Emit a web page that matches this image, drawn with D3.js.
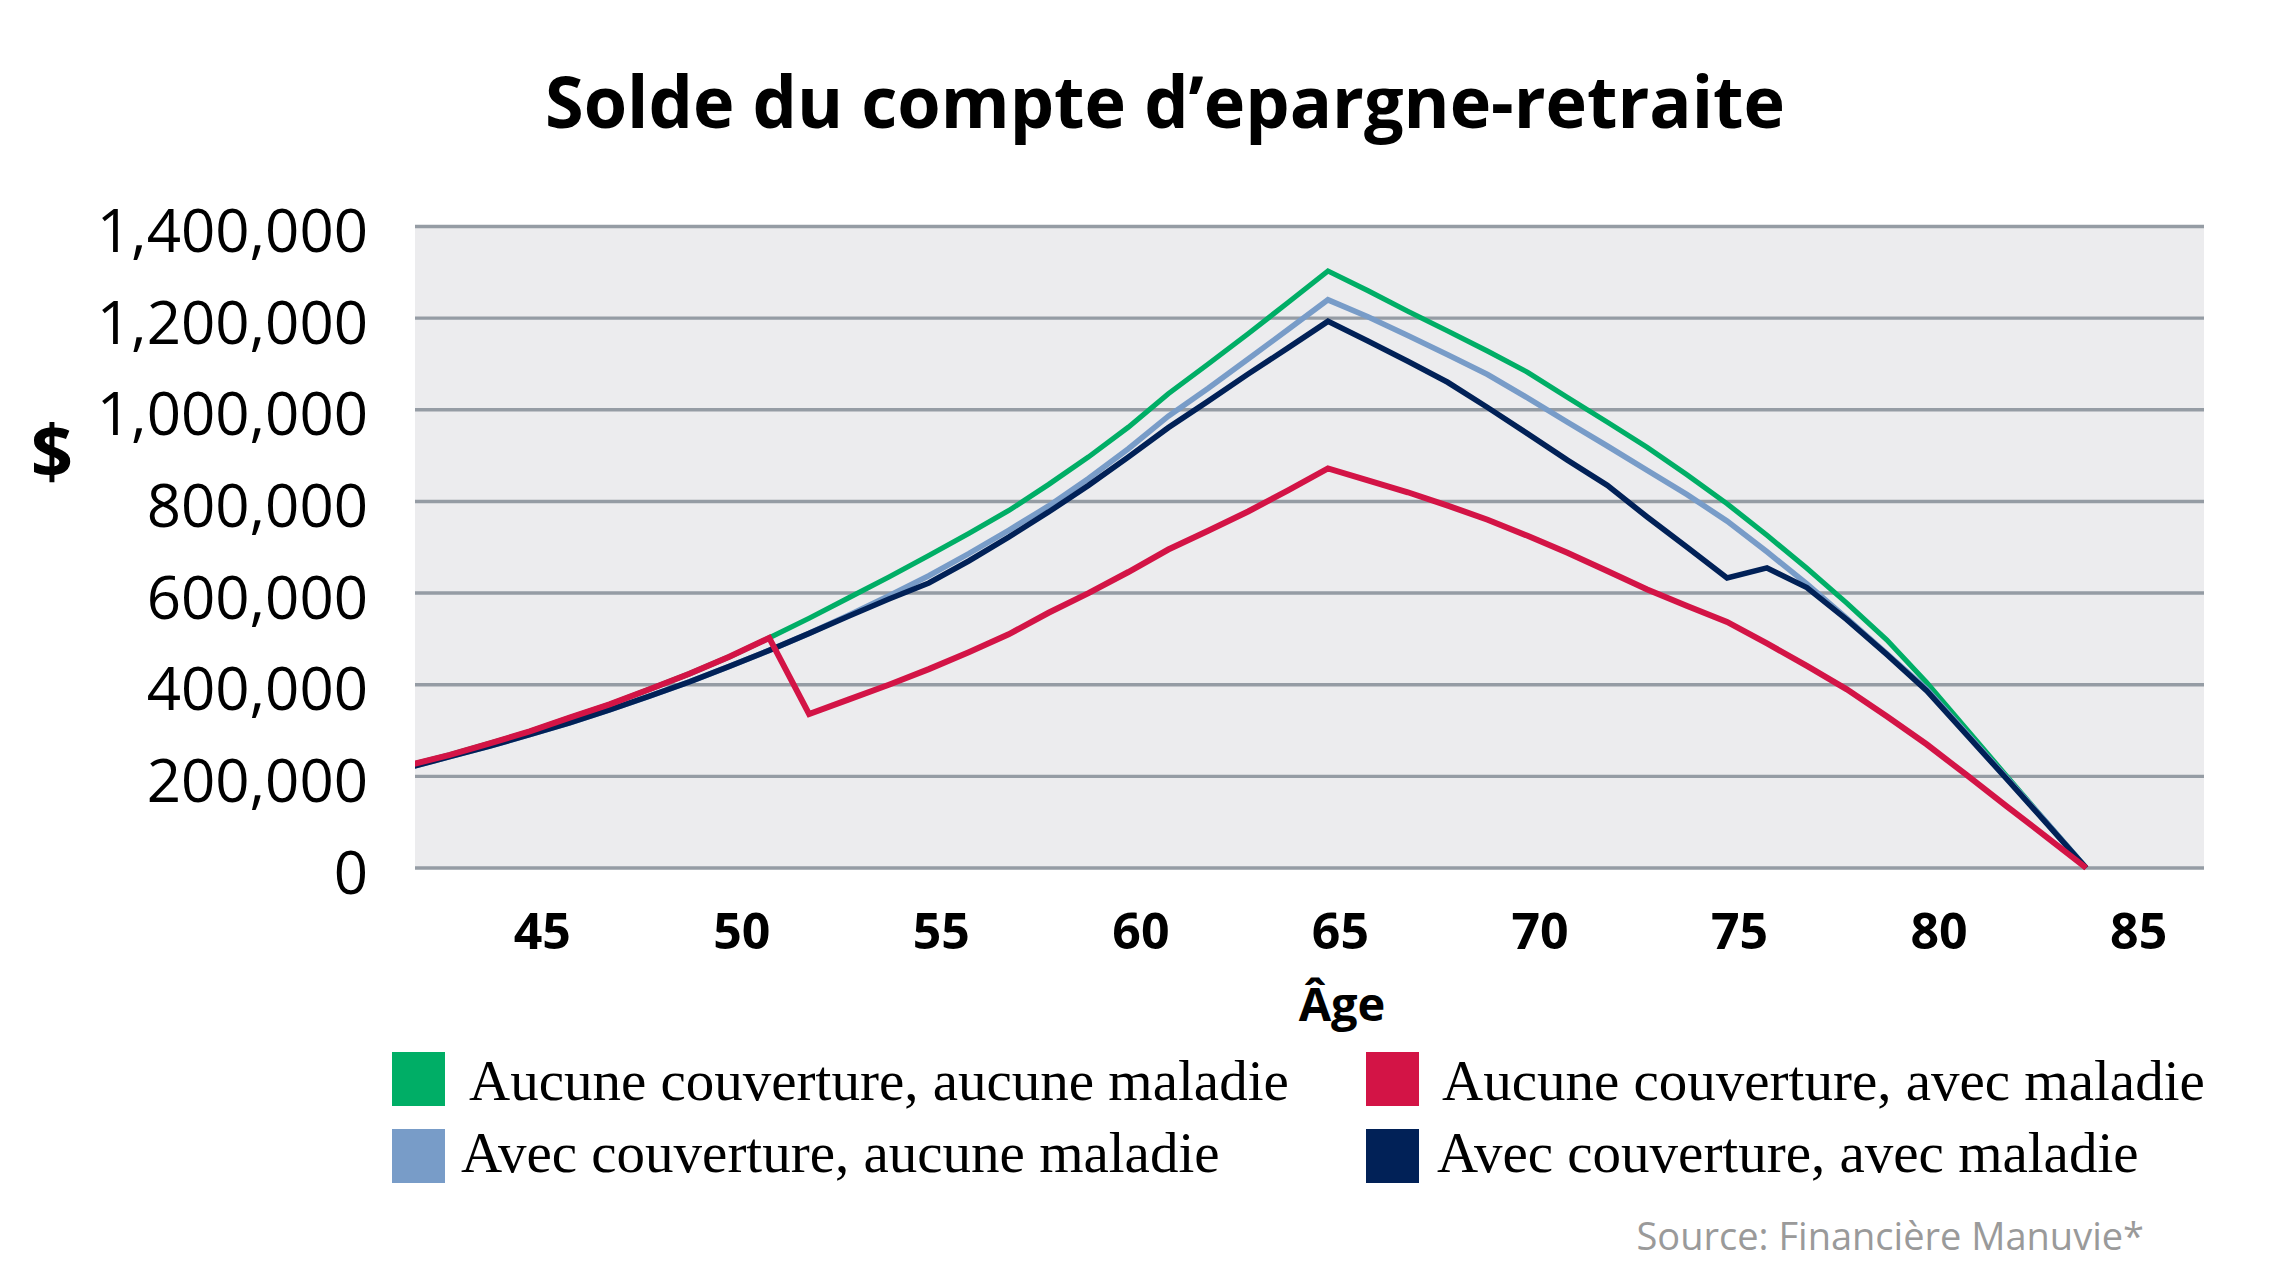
<!DOCTYPE html>
<html>
<head>
<meta charset="utf-8">
<script src="https://cdn.jsdelivr.net/npm/d3@7"></script>
<style>
  html, body { margin: 0; padding: 0; background: #ffffff; }
  svg { display: block; }
</style>
</head>
<body>
<svg id="chart" width="2292" height="1273"></svg>
<script>
// ---------- data ----------
const ages = [42,43,44,45,46,47,48,49,50,51,52,53,54,55,56,57,58,59,60,61,62,63,64,65,66,67,68,69,70,71,72,73,74,75,76,77,78,79,80,81,82,83,84];

const noCoverNoIllness = [225000,247000,272000,298000,328000,357000,390000,424000,461000,502000,545000,590000,635000,682000,730000,780000,837000,897000,962000,1035000,1100000,1166000,1234000,1303000,1260000,1215000,1172000,1128000,1082000,1027000,973000,918000,858000,795000,726000,654000,578000,498000,405000,303000,201000,100000,0];

const noCoverIllness = [225000,247000,272000,298000,328000,357000,390000,424000,461000,502000,336000,368000,400000,434000,471000,510000,557000,600000,646000,695000,736000,778000,824000,872000,846000,820000,791000,760000,725000,688000,648000,608000,572000,537000,490000,441000,390000,331000,270000,203000,135000,68000,0];

const coverNoIllness = [220000,243000,266000,291000,317000,345000,375000,406000,440000,475000,512000,552000,594000,638000,686000,737000,790000,850000,915000,986000,1047000,1111000,1175000,1240000,1203000,1162000,1120000,1077000,1026000,973000,921000,868000,815000,757000,690000,620000,545000,468000,390000,294000,197000,100000,0];

const coverIllness = [220000,243000,266000,291000,317000,345000,375000,406000,440000,475000,512000,550000,587000,622000,670000,722000,777000,835000,897000,961000,1019000,1078000,1135000,1193000,1150000,1106000,1060000,1005000,948000,890000,835000,766000,700000,633000,655000,612000,542000,466000,387000,291000,195000,98000,0];

const seriesNames = [
  "Aucune couverture, aucune maladie",
  "Aucune couverture, avec maladie",
  "Avec couverture, aucune maladie",
  "Avec couverture, avec maladie"
];
const seriesColors = ["#00AE66", "#D31446", "#789CC8", "#012157"];

const yTicks = [0, 200000, 400000, 600000, 800000, 1000000, 1200000, 1400000];
const xTicks = [45, 50, 55, 60, 65, 70, 75, 80, 85];

const titleText = "Solde du compte d\u2019epargne-retraite";
const xTitle = "\u00C2ge";
const yTitle = "$";
const sourceText = "Source: Financi\u00E8re Manuvie*";

// ---------- layout ----------
const svg = d3.select("#chart");
const plot = { left: 415, right: 2204, top: 226.5, bottom: 868 };

const x = d3.scaleLinear().domain([42, 87]).range([410, 2206]);
const y = d3.scaleLinear().domain([0, 1400000]).range([plot.bottom, plot.top]);

svg.append("rect").attr("width", 2292).attr("height", 1273).attr("fill", "#ffffff");

// plot background
svg.append("rect")
  .attr("x", plot.left).attr("y", plot.top)
  .attr("width", plot.right - plot.left).attr("height", plot.bottom - plot.top)
  .attr("fill", "#ECECEE");

// gridlines
svg.append("g").selectAll("line").data(yTicks).join("line")
  .attr("x1", plot.left).attr("x2", plot.right)
  .attr("y1", d => y(d)).attr("y2", d => y(d))
  .attr("stroke", "#959CA4").attr("stroke-width", 3.4);

// y axis labels
const yAxis = svg.append("g")
  .attr("transform", `translate(${plot.left},0)`)
  .call(d3.axisLeft(y).tickValues(yTicks).tickFormat(d3.format(",")).tickSize(0).tickPadding(47));
yAxis.select(".domain").remove();
yAxis.selectAll("text")
  .attr("font-family", "'Open Sans', sans-serif")
  .attr("font-size", 60)
  .attr("fill", "#000")
  .attr("dy", "0.42em");

// x axis labels
const xAxis = svg.append("g")
  .attr("transform", `translate(0,${plot.bottom})`)
  .call(d3.axisBottom(x).tickValues(xTicks).tickFormat(d3.format("d")).tickSize(0));
xAxis.select(".domain").remove();
xAxis.selectAll("text")
  .attr("font-family", "'Open Sans', sans-serif")
  .attr("font-weight", "bold")
  .attr("font-size", 50)
  .attr("fill", "#000")
  .attr("y", 81).attr("dy", 0).attr("dx", 12);

// lines
svg.append("defs").append("clipPath").attr("id", "clip")
  .append("rect").attr("x", plot.left).attr("y", 0)
  .attr("width", plot.right - plot.left).attr("height", 1273);

const allSeries = [noCoverNoIllness, coverNoIllness, coverIllness, noCoverIllness];
const drawColors = [seriesColors[0], seriesColors[2], seriesColors[3], seriesColors[1]];
const drawWidths = [5.2, 5.6, 5.6, 6];

const line = d3.line().x((d, i) => x(ages[i])).y(d => y(d));
const lines = svg.append("g").attr("clip-path", "url(#clip)");
allSeries.forEach((s, k) => {
  lines.append("path")
    .datum(s)
    .attr("d", line)
    .attr("fill", "none")
    .attr("stroke", drawColors[k])
    .attr("stroke-width", drawWidths[k])
    .attr("stroke-linejoin", "miter");
});

// title
svg.append("text")
  .attr("x", 1165).attr("y", 128)
  .attr("text-anchor", "middle")
  .attr("font-family", "'Open Sans', sans-serif")
  .attr("font-weight", "bold")
  .attr("font-size", 72)
  .attr("textLength", 1240)
  .attr("lengthAdjust", "spacingAndGlyphs")
  .text(titleText);

// y title
svg.append("text")
  .attr("x", 52).attr("y", 478)
  .attr("text-anchor", "middle")
  .attr("font-family", "'Open Sans', sans-serif")
  .attr("font-weight", "bold")
  .attr("font-size", 74)
  .text(yTitle);

// x title
svg.append("text")
  .attr("x", 1342).attr("y", 1021)
  .attr("text-anchor", "middle")
  .attr("font-family", "'Open Sans', sans-serif")
  .attr("font-weight", "bold")
  .attr("font-size", 47)
  .text(xTitle);

// legend
const legendItems = [
  { name: seriesNames[0], color: seriesColors[0], sx: 392, tx: 469, row: 0 },
  { name: seriesNames[1], color: seriesColors[1], sx: 1366, tx: 1442, row: 0 },
  { name: seriesNames[2], color: seriesColors[2], sx: 392, tx: 461, row: 1 },
  { name: seriesNames[3], color: seriesColors[3], sx: 1366, tx: 1437, row: 1 }
];
const rowTop = [1052, 1129];
const rowBase = [1100, 1172];
const lg = svg.append("g");
lg.selectAll("rect").data(legendItems).join("rect")
  .attr("x", d => d.sx).attr("y", d => rowTop[d.row])
  .attr("width", 53).attr("height", 54)
  .attr("fill", d => d.color);
lg.selectAll("text").data(legendItems).join("text")
  .attr("x", d => d.tx).attr("y", d => rowBase[d.row])
  .attr("font-family", "'Liberation Serif', 'Times New Roman', serif")
  .attr("font-size", 57)
  .attr("fill", "#000")
  .text(d => d.name);

// source
svg.append("text")
  .attr("x", 2144).attr("y", 1250)
  .attr("text-anchor", "end")
  .attr("font-family", "'Open Sans', sans-serif")
  .attr("font-size", 38)
  .attr("fill", "#9A9A9A")
  .text(sourceText);
</script>
</body>
</html>
